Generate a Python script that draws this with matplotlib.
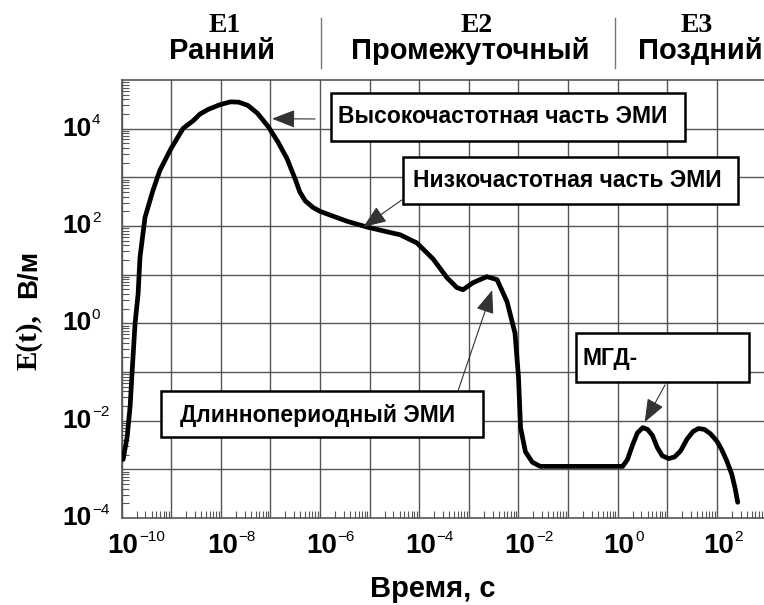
import matplotlib
matplotlib.use("Agg")
import matplotlib.pyplot as plt
from matplotlib.lines import Line2D
from matplotlib.patches import Rectangle
from matplotlib.ticker import FixedLocator, LogLocator, NullFormatter

# ----------------------------------------------------
# Data
# ----------------------------------------------------

time_s = [1.07e-10, 1.29e-10, 1.48e-10, 1.62e-10, 1.86e-10, 2.14e-10, 2.34e-10,
          2.95e-10, 4.27e-10, 5.9e-10, 1.0e-9, 1.74e-9, 2.75e-9, 3.8e-9,
          5.6e-9, 9.5e-9, 1.55e-8, 2.3e-8, 3.5e-8, 5.5e-8, 9.0e-8, 1.4e-7,
          2.14e-7, 3.2e-7, 3.9e-7, 5.0e-7, 7.2e-7, 1.0e-6, 1.8e-6, 3.5e-6,
          8.9e-6, 2.0e-5, 4.1e-5, 8.9e-5, 1.9e-4, 3.6e-4, 5.75e-4, 7.6e-4,
          1.2e-3, 2.3e-3, 3.7e-3, 5.9e-3, 8.5e-3, 1.0e-2, 1.1e-2, 1.38e-2,
          1.9e-2, 2.75e-2, 1.26, 1.58, 2.0, 2.5, 3.2, 4.0, 5.0, 6.3, 7.9,
          10.7, 14.1, 18.6, 25.1, 33.1, 42.7, 56.2, 74, 100, 126, 158, 200,
          234, 263]

field = [1.6e-3, 4.7e-3, 2.0e-2, 0.1, 1.0, 4.0, 23,
         150, 540, 1400, 4000, 10200, 14500, 20000,
         25000, 31000, 35500, 35000, 30000, 20500, 11000, 5400,
         2450, 880, 500, 330, 240, 200, 160, 125,
         95, 78, 66, 45, 21, 8.7, 5.4, 4.9,
         6.8, 9.1, 7.9, 2.75, 0.63, 0.079, 7.2e-3, 2.3e-3,
         1.4e-3, 1.15e-3, 1.15e-3, 1.6e-3, 3.2e-3, 5.6e-3, 7.2e-3, 6.6e-3, 5.0e-3,
         2.8e-3, 1.9e-3, 1.66e-3, 1.8e-3, 2.4e-3, 4.2e-3, 6.0e-3, 6.9e-3, 6.6e-3,
         5.4e-3, 3.8e-3, 2.5e-3, 1.5e-3, 7.9e-4, 4.0e-4, 2.1e-4]

x_ticks = [1e-10, 1e-8, 1e-6, 1e-4, 1e-2, 1e0, 1e2]
x_powers = ["\u221210", "\u22128", "\u22126", "\u22124", "\u22122", "0", "2"]
y_ticks = [1e-4, 1e-2, 1e0, 1e2, 1e4]
y_powers = ["\u22124", "\u22122", "0", "2", "4"]

phase_codes = ["E1", "E2", "E3"]
phase_names = ["Ранний", "Промежуточный", "Поздний"]

notes = ["Высокочастотная часть ЭМИ", "Низкочастотная часть ЭМИ",
         "Длиннопериодный ЭМИ", "МГД-"]
note_tips_t = [1.07e-7, 7.4e-6, 2.95e-3, 3.5]
note_tips_e = [1.6e4, 95, 4.8, 9.3e-3]

# ----------------------------------------------------
# Fonts
# ----------------------------------------------------

plt.rcParams["font.family"] = ["Liberation Sans", "DejaVu Sans"]
plt.rcParams["font.weight"] = "bold"

# ----------------------------------------------------
# Figure
# ----------------------------------------------------

fig = plt.figure(figsize=(7.64, 6.05), dpi=100)
ax = fig.add_axes([0.1593, 0.1438, 0.8407, 0.724])

ax.plot(time_s, field, color="black", lw=3.4,
        solid_joinstyle="round", solid_capstyle="round", zorder=5)

ax.set_xscale("log")
ax.set_yscale("log")
ax.set_xlim(1e-10, 10 ** 2.95)
ax.set_ylim(1e-4, 1e5)

ax.xaxis.set_major_locator(FixedLocator(x_ticks))
ax.yaxis.set_major_locator(FixedLocator(y_ticks))
ax.xaxis.set_major_formatter(NullFormatter())
ax.yaxis.set_major_formatter(NullFormatter())
ax.xaxis.set_minor_locator(LogLocator(base=10, subs=range(2, 10), numticks=30))
ax.yaxis.set_minor_locator(LogLocator(base=10, subs=range(2, 10), numticks=30))
ax.xaxis.set_minor_formatter(NullFormatter())
ax.yaxis.set_minor_formatter(NullFormatter())

ax.tick_params(which="major", length=0)
ax.tick_params(which="minor", direction="in", length=5, width=0.8,
               color="#555555", top=False, right=False)

# tick labels written as 10 + small exponent
for t, p in zip(x_ticks, x_powers):
    ax.annotate("10", xy=(t, 0), xycoords=ax.get_xaxis_transform(),
                xytext=(1, -20), textcoords="offset points",
                fontsize=20, fontweight="bold", ha="center", va="center")
    ax.annotate(p, xy=(t, 0), xycoords=ax.get_xaxis_transform(),
                xytext=(12.5, -14), textcoords="offset points",
                fontsize=11, fontweight="normal", ha="left", va="center")
for t, p in zip(y_ticks, y_powers):
    ax.annotate("10", xy=(0, t), xycoords=ax.get_yaxis_transform(),
                xytext=(-22, 0), textcoords="offset points",
                fontsize=19, fontweight="bold", ha="right", va="center")
    ax.annotate(p, xy=(0, t), xycoords=ax.get_yaxis_transform(),
                xytext=(-21.5, 6), textcoords="offset points",
                fontsize=11, fontweight="normal", ha="left", va="center")

# grid at every decade
for k in range(-10, 3):
    ax.axvline(10.0 ** k, color="#555555", lw=1.0, zorder=1)
for k in range(-3, 5):
    ax.axhline(10.0 ** k, color="#555555", lw=1.0, zorder=1)

for side in ["left", "bottom", "top"]:
    ax.spines[side].set_color("#555555")
    ax.spines[side].set_linewidth(1.2)
ax.spines["right"].set_visible(False)

# ----------------------------------------------------
# Annotation boxes (axes fraction) and arrows
# ----------------------------------------------------

boxes = [(0.326, 0.861, 0.551, 0.109),
         (0.438, 0.717, 0.521, 0.107),
         (0.061, 0.185, 0.502, 0.105),
         (0.707, 0.311, 0.270, 0.111)]
text_pos = [(0.337, 0.916), (0.454, 0.770), (0.091, 0.234), (0.718, 0.364)]
tails = [(0.301, 0.911), (0.436, 0.726), (0.524, 0.292), (0.846, 0.304)]

for i, note in enumerate(notes):
    bx, by, bw, bh = boxes[i]
    ax.add_patch(Rectangle((bx, by), bw, bh, transform=ax.transAxes,
                           facecolor="white", edgecolor="black", lw=1.8,
                           zorder=6))
    ax.text(text_pos[i][0], text_pos[i][1], note, transform=ax.transAxes,
            fontsize=16.5, fontweight="bold", ha="left", va="center", zorder=7)
    ax.annotate("", xy=(note_tips_t[i], note_tips_e[i]), xycoords="data",
                xytext=tails[i], textcoords="axes fraction",
                arrowprops=dict(arrowstyle="-|>,head_length=0.9,head_width=0.35",
                                color="#333333", lw=0.8, mutation_scale=16,
                                shrinkA=0, shrinkB=0),
                zorder=6)

# ----------------------------------------------------
# Axis labels
# ----------------------------------------------------

fig.text(0.567, 0.027, "Время, с", fontsize=21, fontweight="bold",
         ha="center", va="center")

fig.text(0.047, 0.388, "E(t),", family=["Liberation Serif"], fontsize=21,
         fontweight="bold", rotation=90, rotation_mode="anchor",
         ha="left", va="baseline")
fig.text(0.047, 0.508, "В/м", fontsize=20, fontweight="bold", rotation=90,
         rotation_mode="anchor", ha="left", va="baseline")

# ----------------------------------------------------
# Phase header
# ----------------------------------------------------

code_x = [0.2945, 0.624, 0.912]
name_x = [0.2906, 0.615, 0.916]
for i in range(3):
    fig.text(code_x[i], 0.958, phase_codes[i], family=["Liberation Serif"],
             fontsize=20, fontweight="bold", ha="center", va="center")
    fig.text(name_x[i], 0.915, phase_names[i], fontsize=21,
             fontweight="bold", ha="center", va="center")

for sx in [0.420, 0.805]:
    fig.add_artist(Line2D([sx, sx], [0.888, 0.970], color="#777777", lw=1.0))

fig.savefig("out.png", dpi=100)
